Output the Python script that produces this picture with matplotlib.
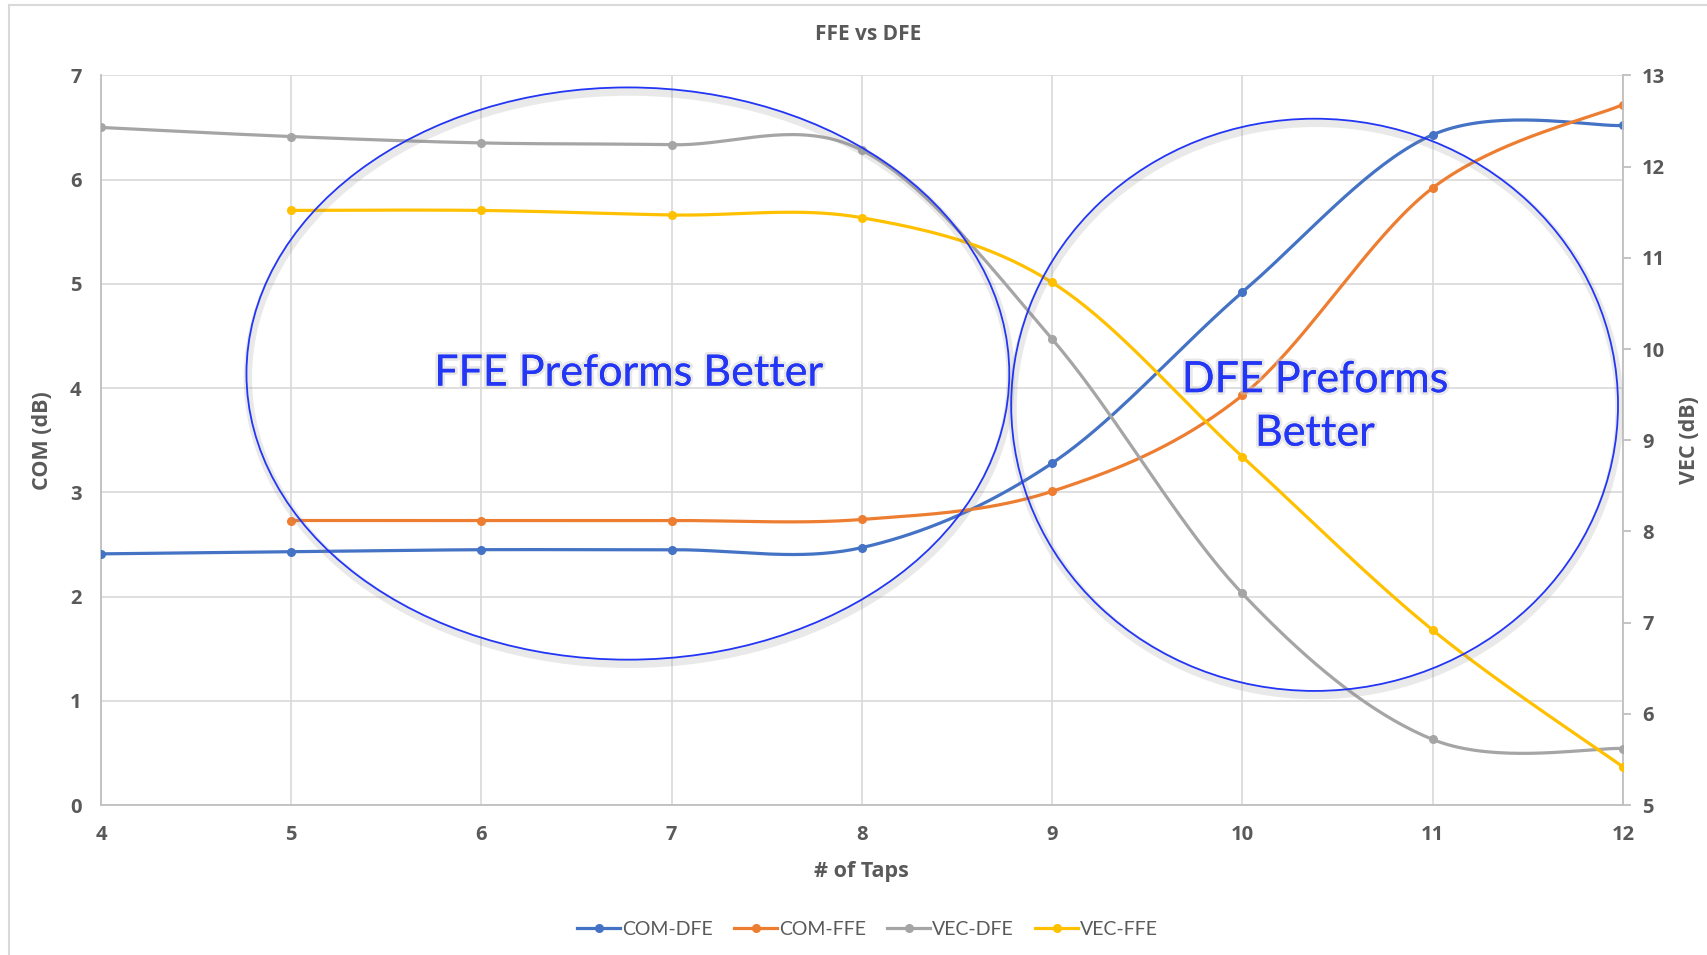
import numpy as np
import matplotlib.pyplot as plt
from matplotlib.patches import Ellipse
import matplotlib.patheffects as pe

plt.rcParams['font.family'] = ['Lato', 'DejaVu Sans']
bold_font = ['Open Sans', 'DejaVu Sans']

# data
taps = [4, 5, 6, 7, 8, 9, 10, 11, 12]
com_dfe = [2.41, 2.43, 2.45, 2.45, 2.47, 3.28, 4.92, 6.43, 6.52]
com_ffe_taps = [5, 6, 7, 8, 9, 10, 11, 12]
com_ffe = [2.73, 2.73, 2.73, 2.74, 3.01, 3.93, 5.92, 6.72]
vec_dfe = [12.43, 12.33, 12.26, 12.24, 12.18, 10.11, 7.32, 5.72, 5.62]
vec_ffe_taps = [5, 6, 7, 8, 9, 10, 11, 12]
vec_ffe = [11.52, 11.52, 11.47, 11.44, 10.73, 8.82, 6.92, 5.42]

c_blue = '#4472C4'
c_orange = '#ED7D31'
c_gray = '#A5A5A5'
c_yellow = '#FFC000'
txt = '#595959'
grid = '#D9D9D9'
shape_blue = '#2336F5'


def smooth(x, y, n=40):
    # Excel style smoothed line (Bezier through the points)
    p = np.column_stack([x, y]).astype(float)
    p = np.vstack([p[0], p, p[-1]])
    out = []
    t = np.linspace(0, 1, n)[:, None]
    for i in range(1, len(p) - 2):
        p0, p1, p2, p3 = p[i - 1], p[i], p[i + 1], p[i + 2]
        c1 = p1 + (p2 - p0) / 6
        c2 = p2 - (p3 - p1) / 6
        seg = ((1 - t) ** 3) * p1 + 3 * ((1 - t) ** 2) * t * c1 + 3 * (1 - t) * t ** 2 * c2 + t ** 3 * p2
        out.append(seg)
    out = np.vstack(out)
    return out[:, 0], out[:, 1]


fig = plt.figure(figsize=(17.08, 9.55), dpi=100)
ax = fig.add_axes([0.0591, 0.157, 0.891, 0.764])
ax2 = ax.twinx()

lw = 2.3
ms = 5.5
series = [
    (ax, taps, com_dfe, c_blue, 'COM-DFE'),
    (ax, com_ffe_taps, com_ffe, c_orange, 'COM-FFE'),
    (ax2, taps, vec_dfe, c_gray, 'VEC-DFE'),
    (ax2, vec_ffe_taps, vec_ffe, c_yellow, 'VEC-FFE'),
]
handles = []
for a, x, y, c, name in series:
    sx, sy = smooth(x, y)
    a.plot(sx, sy, color=c, lw=lw, solid_capstyle='round', zorder=3)
    a.plot(x, y, 'o', color=c, ms=ms, zorder=4)
    h, = ax.plot([], [], '-o', color=c, lw=lw, ms=ms, label=name)
    handles.append(h)

ax.set_xlim(4, 12)
ax.set_ylim(0, 7)
ax2.set_ylim(5, 13)
ax.set_xticks(range(4, 13))
ax.set_yticks(range(0, 8))
ax2.set_yticks(range(5, 14))

ax.grid(True, color=grid, lw=1.2)
ax.set_axisbelow(True)
for a in (ax, ax2):
    for s in a.spines.values():
        s.set_visible(False)
ax.spines['left'].set_visible(True)
ax.spines['bottom'].set_visible(True)
ax2.spines['right'].set_visible(True)
for s in (ax.spines['left'], ax.spines['bottom'], ax2.spines['right']):
    s.set_color('#BFBFBF')
    s.set_linewidth(1.3)

ax.tick_params(axis='y', length=0, labelsize=14.5, labelcolor=txt, pad=14)
ax.tick_params(axis='x', length=0, labelsize=14.5, labelcolor=txt, pad=14)
ax2.tick_params(axis='y', length=6, color='#BFBFBF', width=1.3, labelsize=14.5,
                labelcolor=txt, pad=8)
for lab in ax.get_xticklabels() + ax.get_yticklabels() + ax2.get_yticklabels():
    lab.set_fontweight('bold')
    lab.set_family(bold_font)

lab_kw = dict(fontsize=15.5, fontweight='bold', color=txt, family=bold_font)
ax.set_xlabel('# of Taps', labelpad=12, **lab_kw)
ax.set_ylabel('COM (dB)', labelpad=12, **lab_kw)
ax2.set_ylabel('VEC (dB)', rotation=90, labelpad=10, **lab_kw)
fig.text(0.508, 0.964, 'FFE vs DFE', ha='center', va='center', fontsize=15,
         fontweight='bold', color=txt, family=bold_font)

# highlight shapes
shadow = [pe.SimpleLineShadow(offset=(1, -3), shadow_color='#888888', alpha=0.18, linewidth=6), pe.Normal()]
for cx, cy, w, h in [(6.77, 4.14, 4.01, 5.49), (10.38, 3.84, 3.19, 5.49)]:
    e = Ellipse((cx, cy), w, h, transform=ax.transData, fill=False,
                edgecolor=shape_blue, lw=1.3, zorder=6)
    e.set_path_effects(shadow)
    ax2.add_patch(e)

t1 = ax2.text(6.77, 4.14, 'FFE Preforms Better', transform=ax.transData, ha='center',
              va='center', fontsize=31, color=shape_blue, zorder=7)
t2 = ax2.text(10.38, 3.82, 'DFE Preforms\nBetter', transform=ax.transData, ha='center',
              va='center', fontsize=31, color=shape_blue, zorder=7, linespacing=1.5)
for t in (t1, t2):
    t.set_path_effects([pe.withStroke(linewidth=4, foreground='#cccccc', alpha=0.45), pe.Normal()])

fig.legend(handles=handles, loc='center', bbox_to_anchor=(0.508, 0.027), ncol=4,
           frameon=False, fontsize=14, labelcolor=txt, handlelength=2.2,
           handletextpad=0.1, columnspacing=1.1)

# chart area border
fig.add_artist(plt.Line2D([0.0053, 0.0053], [0, 0.9948], transform=fig.transFigure, color=grid, lw=1.5))
fig.add_artist(plt.Line2D([0.0053, 1], [0.9948, 0.9948], transform=fig.transFigure, color=grid, lw=1.5))

fig.savefig('out.png', dpi=100)
